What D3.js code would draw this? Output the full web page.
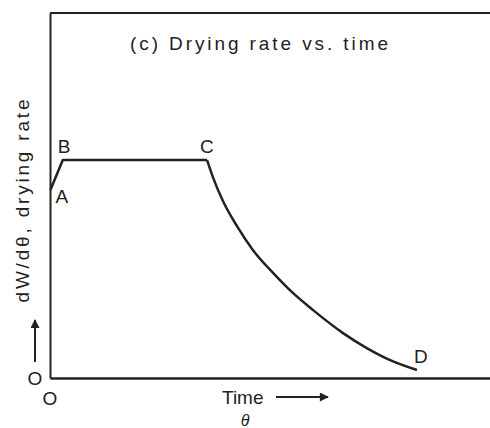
<!DOCTYPE html>
<html>
<head>
<meta charset="utf-8">
<script src="https://cdn.jsdelivr.net/npm/d3@7"></script>
<style>
  body { margin: 0; background: #fff; }
  svg text { font-family: "Liberation Sans", "DejaVu Sans", sans-serif; fill: #222; }
</style>
</head>
<body>
<div id="chart"></div>
<script>
// drying rate curve, time (θ) vs rate, arbitrary units
const warmupTime = [0.1, 2.9];
const warmupRate = [51.5, 59.7];
const constantTime = [2.9, 35.7];
const constantRate = [59.7, 59.7];
const fallingTime = [35.7, 37.0, 39.5, 42.5, 46.1, 50.7, 55.2, 59.8, 66.6, 72.0, 77.3, 83.4];
const fallingRate = [59.7, 55.1, 48.0, 41.6, 35.1, 28.8, 23.3, 18.6, 12.3, 8.2, 4.9, 2.2];
const pointNames = ["A", "B", "C", "D"];
const pointTime = [0.1, 2.9, 35.7, 83.4];
const pointRate = [51.5, 59.7, 59.7, 2.2];

const width = 490, height = 428;
const margin = { top: 13, right: 0, bottom: 50, left: 50 };

const svg = d3.select("#chart").append("svg")
  .attr("width", width)
  .attr("height", height);

const x = d3.scaleLinear().domain([0, 100]).range([margin.left, width - margin.right]);
const y = d3.scaleLinear().domain([0, 100]).range([height - margin.bottom, margin.top]);

const ink = "#222";

// frame: left axis, bottom axis, top border
svg.append("g")
  .attr("transform", `translate(${x(0)},0)`)
  .call(d3.axisLeft(y).ticks(0).tickSizeOuter(0))
  .call((g) => g.select(".domain").attr("stroke", ink).attr("stroke-width", 2));
svg.append("g")
  .attr("transform", `translate(0,${y(0)})`)
  .call(d3.axisBottom(x).ticks(0).tickSizeOuter(0))
  .call((g) => g.select(".domain").attr("stroke", ink).attr("stroke-width", 2.5));
svg.append("line")
  .attr("x1", x(0)).attr("x2", x(100))
  .attr("y1", y(100)).attr("y2", y(100))
  .attr("stroke", ink).attr("stroke-width", 2);

// curve segments
const seg = (ts, rs) => ts.map((t, i) => [t, rs[i]]);
const lin = d3.line().x((d) => x(d[0])).y((d) => y(d[1]));
const smooth = d3.line().x((d) => x(d[0])).y((d) => y(d[1])).curve(d3.curveMonotoneX);

svg.append("path")
  .attr("d", lin(seg(warmupTime, warmupRate).concat(seg(constantTime, constantRate).slice(1))))
  .attr("fill", "none").attr("stroke", ink).attr("stroke-width", 2.5)
  .attr("stroke-linejoin", "round");
svg.append("path")
  .attr("d", smooth(seg(fallingTime, fallingRate)))
  .attr("fill", "none").attr("stroke", ink).attr("stroke-width", 2.5);

// point letters
const offsets = { A: [5, 13], B: [-5, -7], C: [-7, -7], D: [-3, -7] };
svg.selectAll("text.pt")
  .data(pointNames)
  .join("text")
  .attr("class", "pt")
  .attr("x", (d, i) => x(pointTime[i]) + offsets[d][0])
  .attr("y", (d, i) => y(pointRate[i]) + offsets[d][1])
  .attr("font-size", 19)
  .text((d) => d);

// title
svg.append("text")
  .attr("x", 130).attr("y", 50)
  .attr("font-size", 19)
  .attr("textLength", 258)
  .attr("lengthAdjust", "spacing")
  .text("(c) Drying rate vs. time");

// origin labels
svg.append("text").attr("x", x(0)).attr("y", 405)
  .attr("text-anchor", "middle").attr("font-size", 19).text("O");
svg.append("text").attr("x", 35).attr("y", 385)
  .attr("text-anchor", "middle").attr("font-size", 19).text("O");

// y label + arrow
svg.append("text")
  .attr("transform", "translate(29,201) rotate(-90)")
  .attr("text-anchor", "middle")
  .attr("font-size", 19)
  .attr("textLength", 203)
  .attr("lengthAdjust", "spacing")
  .text("dW/dθ, drying rate");

svg.append("defs").append("marker")
  .attr("id", "head").attr("viewBox", "0 0 10 10")
  .attr("refX", 9).attr("refY", 5)
  .attr("markerWidth", 14).attr("markerHeight", 9)
  .attr("markerUnits", "userSpaceOnUse")
  .attr("orient", "auto")
  .append("path").attr("d", "M0,0L10,5L0,10Z").attr("fill", ink);

svg.append("line")
  .attr("x1", 35).attr("x2", 35).attr("y1", 362).attr("y2", 320)
  .attr("stroke", ink).attr("stroke-width", 2)
  .attr("marker-end", "url(#head)");

// x label + arrow
svg.append("text").attr("x", 222).attr("y", 404)
  .attr("font-size", 19).text("Time");
svg.append("line")
  .attr("x1", 276).attr("x2", 328).attr("y1", 397).attr("y2", 397)
  .attr("stroke", ink).attr("stroke-width", 2)
  .attr("marker-end", "url(#head)");
svg.append("text").attr("x", 245).attr("y", 426)
  .attr("text-anchor", "middle").attr("font-size", 16)
  .attr("font-style", "italic").text("θ");
</script>
</body>
</html>
